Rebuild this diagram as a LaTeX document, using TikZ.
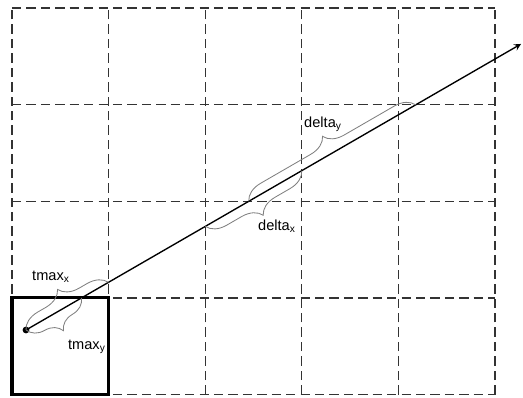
\documentclass[tikz,border=0pt]{standalone}
\usepackage{fontspec}
\setmainfont{Liberation Sans}
\usetikzlibrary{decorations.pathreplacing,calc}

\begin{document}
\begin{tikzpicture}[>=stealth, x=2cm, y=2cm,
  gridline/.style={dash pattern=on 5.5pt off 3pt, line width=0.8pt, black!80},
  bracemark/.style={decorate, decoration={brace, amplitude=0.4cm}, gray, line width=0.5pt},
  lbl/.style={font=\fontsize{8.6}{10}\selectfont, inner sep=1pt}]
  \useasboundingbox (-0.124,-0.026) rectangle (5.29,4.084);

  % Cells
  \foreach \i in {0,...,5}
    \draw[gridline] (\i,0) -- (\i,4);
  \foreach \j in {0,...,4}
    \draw[gridline] (0,\j) -- (5,\j);
  \draw[line width=1.8pt] (0,0) rectangle (1,1);

  % Ray from the start point
  \coordinate (start) at (0.145,0.668);
  \coordinate (tip) at (5.27,3.629);
  \draw[->, line width=0.8pt] (start) -- (tip);
  \fill (start) circle (0.035);

  % Crossings with the cell borders
  \coordinate (cx1) at ($(start)!0.1668!(tip)$);
  \coordinate (cy1) at ($(start)!0.1121!(tip)$);
  \coordinate (cx2) at ($(start)!0.362!(tip)$);
  \coordinate (cx3) at ($(start)!0.557!(tip)$);
  \coordinate (cy2) at ($(start)!0.450!(tip)$);
  \coordinate (cy3) at ($(start)!0.7876!(tip)$);

  % Braces and labels
  \draw[bracemark] (start) -- (cx1);
  \draw[bracemark] (cy1) -- (start);
  \draw[bracemark] (cx3) -- (cx2);
  \draw[bracemark] (cy2) -- (cy3);
  \node[lbl] (tmaxx) at (0.404,1.216) {tmax\textsubscript{x}};
  \node[lbl] (tmaxy) at (0.776,0.492) {tmax\textsubscript{y}};
  \node[lbl] (deltax) at (2.743,1.744) {delta\textsubscript{x}};
  \node[lbl] (deltay) at (3.22,2.80) {delta\textsubscript{y}};
\end{tikzpicture}
\end{document}
